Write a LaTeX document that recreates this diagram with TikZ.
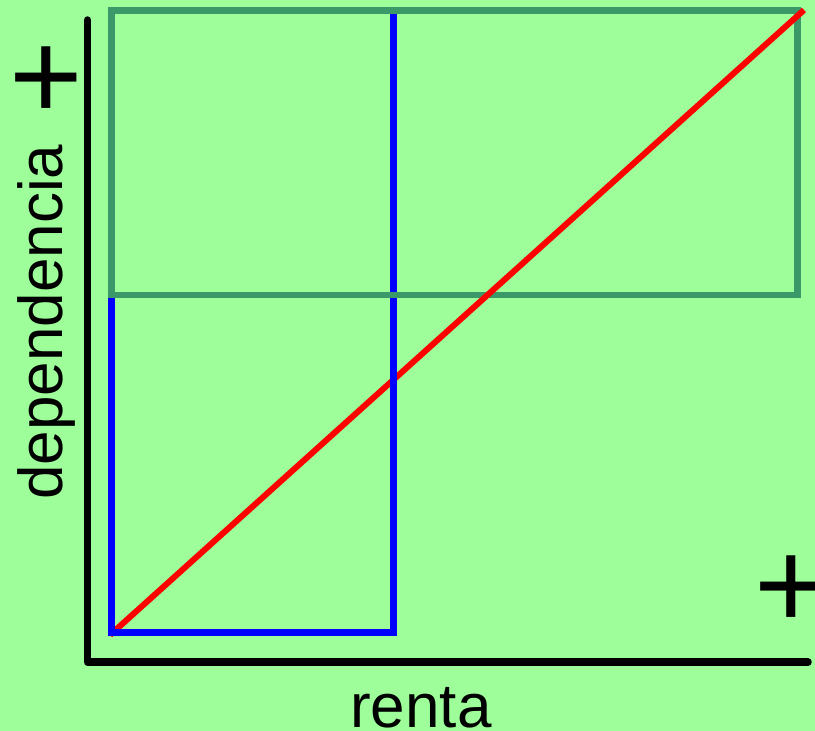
\documentclass[tikz,border=0pt]{standalone}
\usepackage{fontspec}
\setmainfont{Liberation Sans}
\usetikzlibrary{positioning}
\definecolor{meadow}{HTML}{9EFF9A}
\definecolor{pine}{HTML}{3A9869}

\begin{document}
\begin{tikzpicture}[
    x=1pt, y=-1pt,
    axisline/.style={line width=7.5pt, draw=black, line cap=round, line join=round},
    frame/.style={line width=6.5pt, draw=#1},
    diagline/.style={line width=6pt, draw=red},
    axislabel/.style={font=\fontsize{62}{70}\selectfont, inner sep=0pt, anchor=base},
    plussign/.style={font=\fontsize{126}{130}\selectfont, inner sep=0pt}
]

% === Canvas ===
\useasboundingbox[fill=meadow] (0,0) rectangle (815,731);

% === Key points ===
\coordinate (ytop)   at (87.5,20);
\coordinate (origin) at (87.5,662);
\coordinate (xend)   at (808,662);
\coordinate (low)    at (110,635);
\coordinate (high)   at (804,10);

% === Regions ===
% low rent band
\draw[frame=blue] (111.5,10.5) rectangle (393.5,632.5);
% high dependency band
\draw[frame=pine] (111.5,10.5) rectangle (797.5,295);
% diagonal
\draw[diagline] (low) -- (high);
% blue band lies above the diagonal
\draw[frame=blue] (111.5,299) -- (111.5,632.5) -- (393.5,632.5) -- (393.5,299);

% === Axes ===
\draw[axisline] (ytop) -- (origin) -- (xend);

% === Labels ===
\node[axislabel, rotate=90] (ylab) at (62,322) {dependencia};
\node[axislabel] (xlab) at (421,727) {renta};
\node[plussign] (yplus) at (46.5,83) {+};
\node[plussign] (xplus) at (791,592) {+};

\end{tikzpicture}
\end{document}
